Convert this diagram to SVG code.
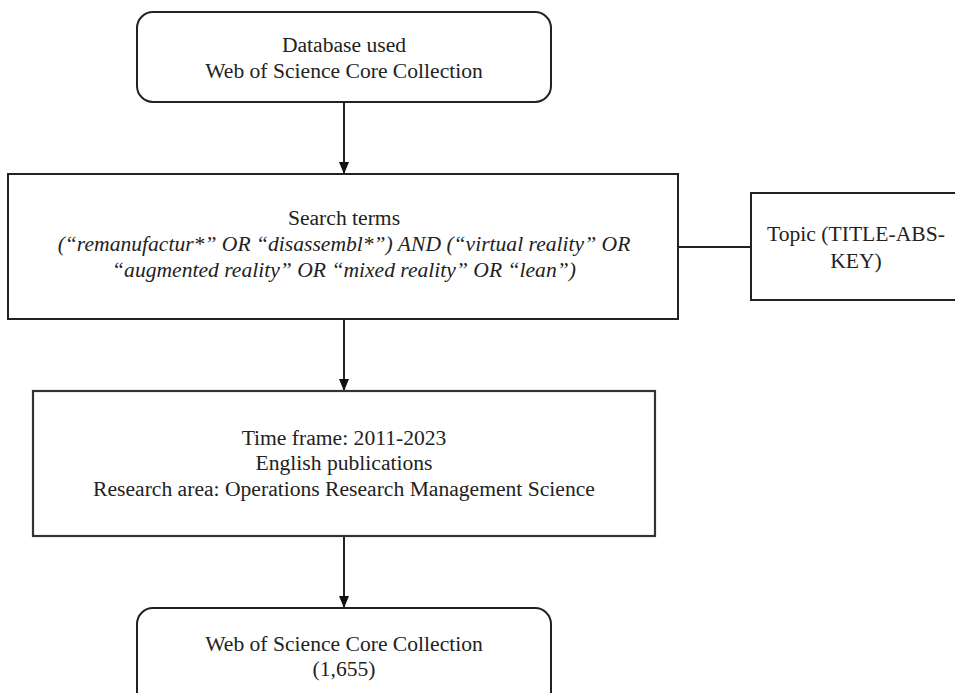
<svg xmlns="http://www.w3.org/2000/svg" width="955" height="693" viewBox="0 0 955 693">
<style>
.b{fill:#fff;stroke:#222;stroke-width:2}
.t{font-family:"Liberation Serif","Times New Roman",serif;font-size:21.6px;fill:#222;text-anchor:middle}
.i{font-style:italic}
.c{stroke:#222;stroke-width:2;fill:none}
</style>
<defs>
<marker id="ah" markerWidth="12" markerHeight="12" refX="11" refY="6" orient="auto" markerUnits="userSpaceOnUse"><path d="M0,1 L12,6 L0,11 Z" fill="#111"/></marker>
</defs>
<rect width="955" height="693" fill="#fff"/>
<g id="connectors">
<line class="c" x1="344" y1="102" x2="344" y2="173" marker-end="url(#ah)"/>
<line class="c" x1="344" y1="319" x2="344" y2="390" marker-end="url(#ah)"/>
<line class="c" x1="344" y1="536" x2="344" y2="607" marker-end="url(#ah)"/>
<line class="c" x1="678" y1="247" x2="751" y2="247"/>
</g>
<g id="db">
<rect class="b" x="137" y="12" width="414" height="90" rx="16"/>
<text class="t" x="344" y="52">Database used</text>
<text class="t" x="344" y="78">Web of Science Core Collection</text>
</g>
<g id="search">
<rect class="b" x="8" y="174" width="670" height="145"/>
<text class="t" x="344" y="225">Search terms</text>
<text class="t i" x="344" y="251">(“remanufactur*” OR “disassembl*”) AND (“virtual reality” OR</text>
<text class="t i" x="344" y="277">“augmented reality” OR “mixed reality” OR “lean”)</text>
</g>
<g id="topic">
<rect class="b" x="751" y="193" width="212" height="107"/>
<text class="t" x="856" y="241">Topic (TITLE-ABS-</text>
<text class="t" x="856" y="268">KEY)</text>
</g>
<g id="filters">
<rect class="b" x="33" y="391" width="622" height="145" style="stroke:#333;stroke-width:2.2"/>
<text class="t" x="344" y="445">Time frame: 2011-2023</text>
<text class="t" x="344" y="470">English publications</text>
<text class="t" x="344" y="496">Research area: Operations Research Management Science</text>
</g>
<g id="result">
<rect class="b" x="137" y="608" width="414" height="110" rx="16"/>
<text class="t" x="344" y="651">Web of Science Core Collection</text>
<text class="t" x="344" y="676">(1,655)</text>
</g>
</svg>
